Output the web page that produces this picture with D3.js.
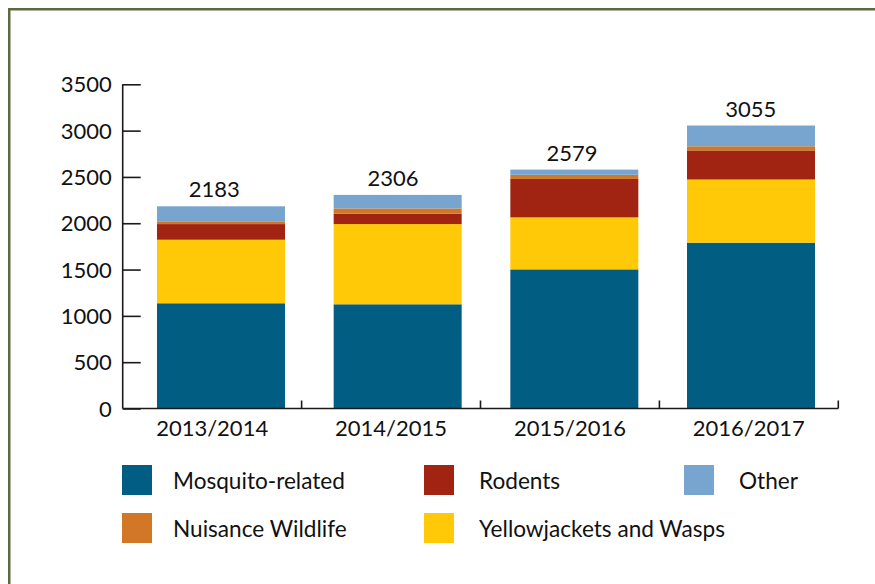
<!DOCTYPE html>
<html>
<head>
<meta charset="utf-8">
<script src="https://cdn.jsdelivr.net/npm/d3@7"></script>
<style>
  html, body { margin: 0; padding: 0; background: #ffffff; }
  svg { display: block; }
  text { font-family: Lato, "Open Sans", sans-serif; fill: #111111; }
</style>
</head>
<body>
<svg id="chart" width="875" height="584"></svg>
<script>
// Pest service requests by season, stacked by request type
const seasons = ["2013/2014", "2014/2015", "2015/2016", "2016/2017"];
const mosquito = [1136, 1125, 1502, 1790];
const yellowjackets = [686, 866, 561, 682];
const rodents = [169, 113, 415, 314];
const nuisance = [30, 56, 45, 45];
const other = [162, 146, 56, 224];
const totals = [2183, 2306, 2579, 3055];
const yTicks = [0, 500, 1000, 1500, 2000, 2500, 3000, 3500];

// stacking order, bottom to top
const seriesKeys = ["Mosquito-related", "Yellowjackets and Wasps", "Rodents", "Nuisance Wildlife", "Other"];
const seriesValues = [mosquito, yellowjackets, rodents, nuisance, other];
const colors = {
  "Mosquito-related": "#025d82",
  "Yellowjackets and Wasps": "#ffc907",
  "Rodents": "#a12413",
  "Nuisance Wildlife": "#d27726",
  "Other": "#78a5cf"
};
// legend reads left to right, top to bottom
const legendOrder = ["Mosquito-related", "Rodents", "Other", "Nuisance Wildlife", "Yellowjackets and Wasps"];

const rows = seasons.map((s, i) => {
  const r = { season: s };
  seriesKeys.forEach((k, j) => { r[k] = seriesValues[j][i]; });
  return r;
});

const svg = d3.select("#chart");

// outer frame
svg.append("rect")
  .attr("x", 9.25).attr("y", 9.25)
  .attr("width", 900).attr("height", 600)
  .attr("fill", "none")
  .attr("stroke", "#5d6a40")
  .attr("stroke-width", 2.5);

const x0 = 122.7, x1 = 838.3, yBottom = 408.5, yTop = 84.3;

// category scale for the axis and labels
const xAxisScale = d3.scaleBand().domain(seasons).range([x0, x1]).padding(0);
// bar placement
const xBar = d3.scaleBand().domain(seasons).range([132.67, 839.33])
  .paddingInner(0.2755).paddingOuter(0.1377);
const y = d3.scaleLinear().domain([0, 3500]).range([yBottom, yTop]);

const stacked = d3.stack().keys(seriesKeys)(rows);

svg.append("g").selectAll("g")
  .data(stacked)
  .join("g")
  .attr("fill", d => colors[d.key])
  .selectAll("rect")
  .data(d => d)
  .join("rect")
  .attr("x", d => xBar(d.data.season))
  .attr("width", xBar.bandwidth())
  .attr("y", d => y(d[1]))
  .attr("height", d => y(d[0]) - y(d[1]));

// y axis with inward ticks
const yAxis = svg.append("g")
  .attr("transform", `translate(${x0},0)`)
  .call(d3.axisRight(y).tickValues(yTicks).tickSize(18).tickFormat(""));
yAxis.select(".domain").attr("d", `M0,${yTop}V${yBottom}`);
yAxis.selectAll("path, line").attr("stroke", "#1a1a1a").attr("stroke-width", 1.6);

svg.append("g").selectAll("text")
  .data(yTicks)
  .join("text")
  .attr("x", x0 - 11)
  .attr("y", d => y(d) + 8)
  .attr("text-anchor", "end")
  .attr("font-size", 22)
  .text(d => d);

// x axis: baseline, boundary ticks, centred labels
const xAxis = svg.append("g")
  .attr("transform", `translate(0,${yBottom})`)
  .call(d3.axisBottom(xAxisScale).tickSize(0).tickFormat(""));
xAxis.select(".domain").attr("d", `M${x0},0H${x1}`)
  .attr("stroke", "#1a1a1a").attr("stroke-width", 1.6);

xAxis.selectAll("line.boundary")
  .data(seasons)
  .join("line")
  .attr("class", "boundary")
  .attr("x1", d => xAxisScale(d) + xAxisScale.bandwidth())
  .attr("x2", d => xAxisScale(d) + xAxisScale.bandwidth())
  .attr("y1", 0).attr("y2", -8)
  .attr("stroke", "#1a1a1a").attr("stroke-width", 1.6);

svg.append("g").selectAll("text")
  .data(seasons)
  .join("text")
  .attr("x", d => xAxisScale(d) + xAxisScale.bandwidth() / 2)
  .attr("y", 436)
  .attr("text-anchor", "middle")
  .attr("font-size", 22)
  .text(d => d);

// totals above each stack
svg.append("g").selectAll("text")
  .data(seasons)
  .join("text")
  .attr("x", d => xAxisScale(d) + xAxisScale.bandwidth() / 2 + 2)
  .attr("y", (d, i) => y(totals[i]) - 9)
  .attr("text-anchor", "middle")
  .attr("font-size", 22)
  .text((d, i) => totals[i]);

// legend, three columns by two rows
const legendCols = [122, 424, 684];
const legendTextOffset = [51, 55, 55];
const legendRows = [465, 513];
const legend = svg.append("g").selectAll("g")
  .data(legendOrder)
  .join("g")
  .attr("transform", (d, i) => `translate(${legendCols[i % 3]},${legendRows[Math.floor(i / 3)]})`);
legend.append("rect")
  .attr("width", 30).attr("height", 30)
  .attr("fill", d => colors[d]);
legend.append("text")
  .attr("x", (d, i) => legendTextOffset[i % 3])
  .attr("y", 24)
  .attr("font-size", 22.6)
  .text(d => d);
</script>
</body>
</html>
